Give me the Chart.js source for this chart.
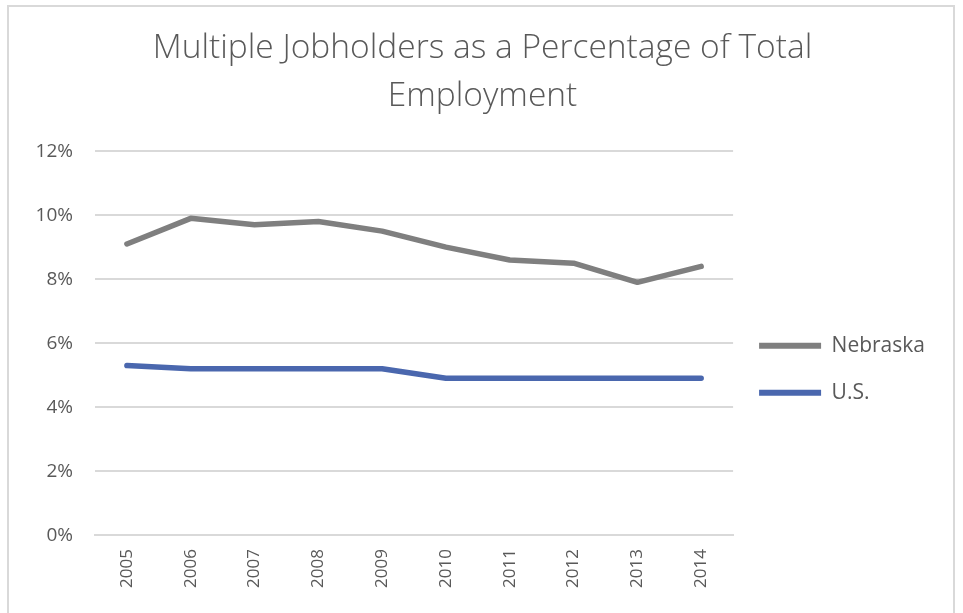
<!DOCTYPE html>
<html>
<head>
<meta charset="utf-8">
<script src="https://cdn.jsdelivr.net/npm/chart.js@4/dist/chart.umd.min.js"></script>
<style>
  html, body { margin: 0; padding: 0; background: #fff; }
  .frame {
    position: absolute;
    left: 7px; top: 5px;
    width: 948px; height: 620px;
    border: 2px solid #d9d9d9;
    box-sizing: border-box;
  }
  #wrap { position: absolute; left: 0; top: 0; width: 963px; height: 613px; }
</style>
</head>
<body>
<div class="frame"></div>
<div id="wrap"><canvas id="chart"></canvas></div>
<script>
// Years on the category axis
const years = ['2005', '2006', '2007', '2008', '2009', '2010', '2011', '2012', '2013', '2014']

// Percent of total employment holding more than one job
const nebraska = [9.1, 9.9, 9.7, 9.8, 9.5, 9.0, 8.6, 8.5, 7.9, 8.4]
const us = [5.3, 5.2, 5.2, 5.2, 5.2, 4.9, 4.9, 4.9, 4.9, 4.9]

const yTicks = [0, 2, 4, 6, 8, 10, 12]

const textColor = '#595959'
const gridColor = '#d9d9d9'

new Chart(document.getElementById('chart'), {
  type: 'line',
  data: {
    labels: years,
    datasets: [
      {
        label: 'Nebraska',
        data: nebraska,
        borderColor: '#7f7f7f',
        backgroundColor: '#7f7f7f',
        borderWidth: 5.5,
        pointRadius: 0,
        tension: 0,
        borderCapStyle: 'round',
        borderJoinStyle: 'round'
      },
      {
        label: 'U.S.',
        data: us,
        borderColor: '#4a67ae',
        backgroundColor: '#4a67ae',
        borderWidth: 5.5,
        pointRadius: 0,
        tension: 0,
        borderCapStyle: 'round',
        borderJoinStyle: 'round'
      }
    ]
  },
  options: {
    responsive: true,
    maintainAspectRatio: false,
    animation: false,
    layout: { padding: { left: 30, right: 28, top: 24, bottom: 11 } },
    plugins: {
      title: {
        display: true,
        text: ['Multiple Jobholders as a Percentage of Total', 'Employment'],
        color: textColor,
        font: { family: 'Open Sans', size: 33.5, weight: '300', lineHeight: 1.45 },
        padding: { top: 0, bottom: 30 }
      },
      legend: {
        position: 'right',
        title: { display: true, text: ' ', padding: { top: 98, bottom: 0 } },
        labels: {
          color: textColor,
          font: { family: 'Open Sans', size: 21 },
          boxWidth: 62,
          boxHeight: 6,
          padding: 26,
          generateLabels(chart) {
            return chart.data.datasets.map((ds, i) => ({
              text: ds.label,
              fillStyle: ds.borderColor,
              strokeStyle: ds.borderColor,
              lineWidth: 0,
              fontColor: textColor,
              datasetIndex: i
            }))
          }
        }
      },
      tooltip: { enabled: false }
    },
    scales: {
      x: {
        offset: true,
        grid: { display: false, drawTicks: false },
        border: { display: true, color: gridColor, width: 2 },
        ticks: {
          color: textColor,
          font: { family: 'Open Sans', size: 17 },
          maxRotation: 90,
          minRotation: 90,
          padding: 14
        }
      },
      y: {
        min: 0,
        max: 12,
        afterBuildTicks(axis) {
          axis.ticks = yTicks.map(v => ({ value: v }))
        },
        afterFit(axis) {
          axis.width = 65
        },
        grid: { color: gridColor, lineWidth: 2, drawTicks: false },
        border: { display: false },
        ticks: {
          color: textColor,
          font: { family: 'Open Sans', size: 19 },
          padding: 22,
          callback: v => v + '%'
        }
      }
    }
  }
})
</script>
</body>
</html>
